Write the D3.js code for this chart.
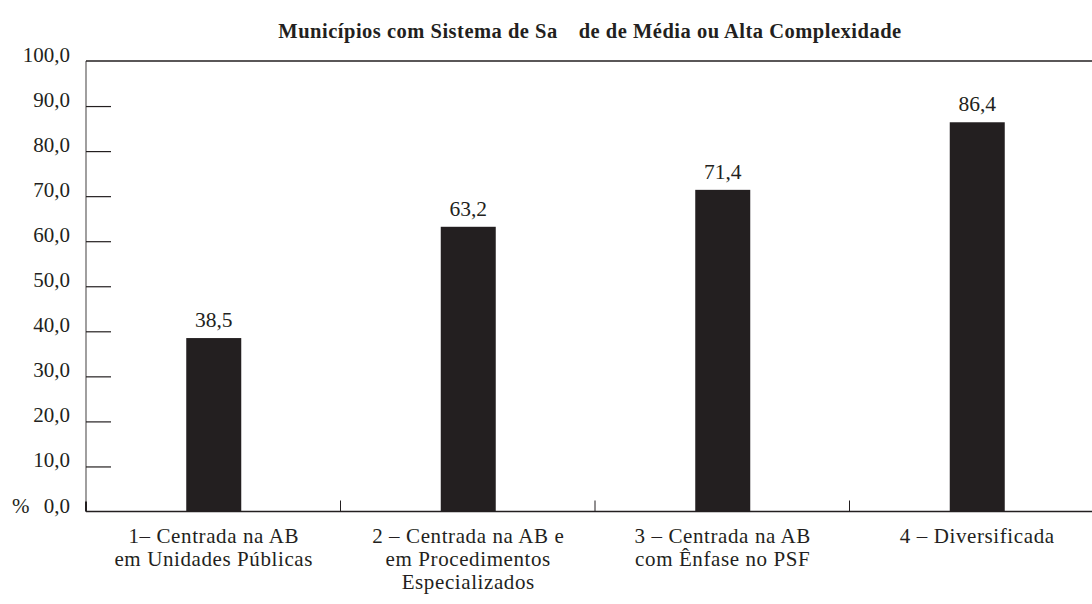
<!DOCTYPE html>
<html><head><meta charset="utf-8">
<script src="https://cdn.jsdelivr.net/npm/d3@7"></script>
<style>body{margin:0;background:#fff}svg{display:block}</style>
</head><body>
<svg id="c" width="1092" height="604"></svg>
<script>
const title = "Municípios com Sistema de Sa\u2003de de Média ou Alta Complexidade";
const categories = [
  ["1– Centrada na AB", "em Unidades Públicas"],
  ["2 – Centrada na AB e", "em Procedimentos", "Especializados"],
  ["3 – Centrada na AB", "com Ênfase no PSF"],
  ["4 – Diversificada"]
];
const values = [38.5, 63.2, 71.4, 86.4];
const yTicks = [0, 10, 20, 30, 40, 50, 60, 70, 80, 90, 100];

(function () {
const svg = d3.select("#c");
const font = "'Liberation Serif', 'Times New Roman', serif";
const ink = "#231f20";
const mLeft = 86, mRight = 1104, mTop = 61, mBottom = 511.5;

const x = d3.scaleBand().domain(d3.range(categories.length)).range([mLeft, mRight]).paddingInner(0).paddingOuter(0);
const y = d3.scaleLinear().domain([0, 100]).range([mBottom, mTop]);
const fmt = v => d3.format(".1f")(v).replace(".", ",");

svg.append("text").attr("x", 590).attr("y", 38).attr("text-anchor", "middle")
  .attr("font-family", font).attr("font-weight", "bold").attr("font-size", 20.5)
  .attr("letter-spacing", 0.5).attr("fill", ink)
  .style("white-space", "pre").text(title);

svg.append("line").attr("x1", mLeft).attr("x2", mLeft).attr("y1", y(100)).attr("y2", y(0))
  .attr("stroke", "#6d6b6b").attr("stroke-width", 1.3);
svg.append("line").attr("x1", mLeft).attr("x2", 1092).attr("y1", y(100)).attr("y2", y(100))
  .attr("stroke", ink).attr("stroke-width", 1.3);

const yAxis = d3.axisRight(y).tickValues(yTicks.filter(t => t > 0 && t < 100)).tickSize(25).tickFormat("");
const ga = svg.append("g").attr("transform", `translate(${mLeft},0)`).call(yAxis);
ga.select(".domain").remove();
ga.selectAll("line").attr("stroke", ink).attr("stroke-width", 1.2);

svg.append("g").selectAll("text").data(yTicks).join("text")
  .attr("x", 70).attr("y", d => y(d) + 1)
  .attr("text-anchor", "end").attr("font-family", font).attr("font-size", 21).attr("fill", ink)
  .text(d => fmt(d));
svg.append("text").attr("x", 12).attr("y", y(0) + 1).attr("font-family", font).attr("font-size", 21).attr("fill", ink).text("%");

const barW = 55;
svg.append("g").selectAll("rect").data(values).join("rect")
  .attr("x", (d, i) => x(i) + x.bandwidth() / 2 - barW / 2 + 0.5)
  .attr("width", barW)
  .attr("y", d => y(d)).attr("height", d => y(0) - y(d))
  .attr("fill", ink);

svg.append("g").selectAll("text").data(values).join("text")
  .attr("x", (d, i) => x(i) + x.bandwidth() / 2 + 0.5)
  .attr("y", d => y(d) - 11)
  .attr("text-anchor", "middle").attr("font-family", font).attr("font-size", 21.5).attr("fill", ink)
  .text(d => fmt(d));

svg.append("line").attr("x1", mLeft).attr("x2", 1092).attr("y1", y(0)).attr("y2", y(0))
  .attr("stroke", ink).attr("stroke-width", 1.3);
svg.append("line").attr("x1", mLeft).attr("x2", mLeft).attr("y1", y(0) - 10).attr("y2", y(0))
  .attr("stroke", ink).attr("stroke-width", 2);

svg.append("g").selectAll("line").data(d3.range(1, categories.length)).join("line")
  .attr("x1", i => x(i)).attr("x2", i => x(i))
  .attr("y1", y(0) - 11).attr("y2", y(0))
  .attr("stroke", ink).attr("stroke-width", 1);

const cl = svg.append("g").selectAll("text").data(categories).join("text")
  .attr("text-anchor", "middle").attr("font-family", font).attr("font-size", 21)
  .attr("letter-spacing", 0.6).attr("fill", ink);
cl.selectAll("tspan").data((d, i) => d.map(s => ({s, i}))).join("tspan")
  .attr("x", d => x(d.i) + x.bandwidth() / 2 + 0.5)
  .attr("y", (d, j) => 543 + j * 23)
  .text(d => d.s);
})();
</script>
</body></html>
